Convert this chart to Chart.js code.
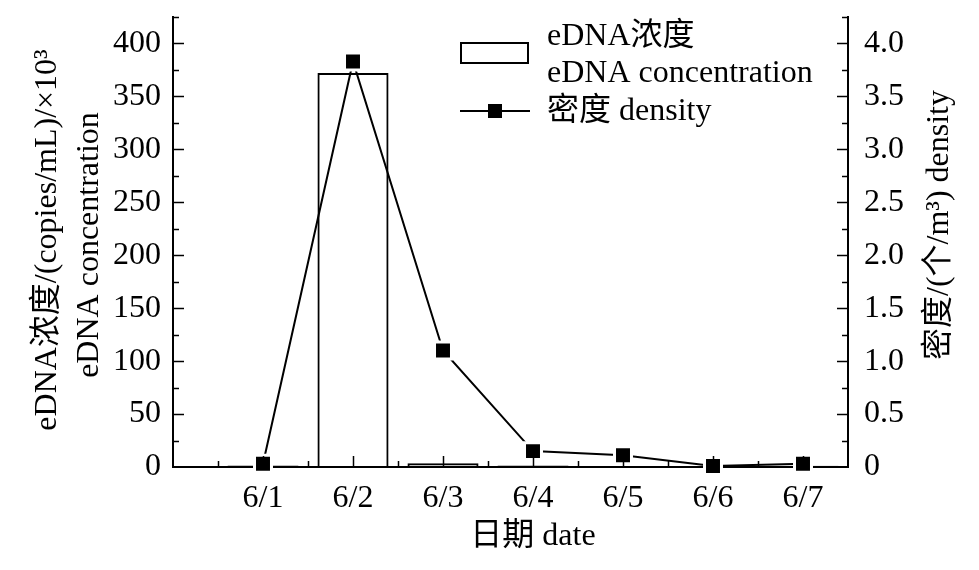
<!DOCTYPE html>
<html>
<head>
<meta charset="utf-8">
<script src="https://cdn.jsdelivr.net/npm/chart.js@4.4.1/dist/chart.umd.min.js"></script>
<style>
html,body{margin:0;padding:0;background:#fff;}
#wrap{width:979px;height:570px;position:relative;}
</style>
</head>
<body>
<div id="wrap"><canvas id="c" width="979" height="570"></canvas></div>
<script>
// ---- data ----
const categories = ['6/1', '6/2', '6/3', '6/4', '6/5', '6/6', '6/7'];
const ednaValues = [1.5, 372, 3.5, 1.5, 0.3, 1.0, 1.2];          // ×10^3 copies/mL
const densityValues = [0.03, 3.83, 1.10, 0.15, 0.11, 0.01, 0.03]; // 个/m³
const leftTicks = [0, 50, 100, 150, 200, 250, 300, 350, 400];
const rightTicks = [0, 0.5, 1.0, 1.5, 2.0, 2.5, 3.0, 3.5, 4.0];
const rightTickLabels = ['0', '0.5', '1.0', '1.5', '2.0', '2.5', '3.0', '3.5', '4.0'];
const legendEdna = ['eDNA浓度', 'eDNA concentration'];
const legendDensity = '密度 density';
const leftTitle = ['eDNA浓度/(copies/mL)/×10³', 'eDNA concentration'];
const rightTitle = '密度/(个/m³) density';
const xTitle = '日期 date';

const FONT = "'Liberation Serif','Noto Sans CJK SC',serif";
const FS = 32;

const barData = categories.map((c, i) => ({ x: i + 1, y: ednaValues[i] }));
const lineData = categories.map((c, i) => ({ x: i + 1, y: densityValues[i] }));

const decor = {
  id: 'decor',
  afterDraw(chart) {
    const ctx = chart.ctx;
    const xs = chart.scales.x, ys = chart.scales.y, ys1 = chart.scales.y1;
    const a = chart.chartArea;
    ctx.save();
    ctx.strokeStyle = '#000';
    ctx.lineWidth = 1.5;
    // inward tick marks
    for (let i = 1; i <= 17; i++) {
      const v = i * 25;
      const py = Math.round(ys.getPixelForValue(v)) + 0.5;
      const len = (i % 2 === 0) ? 11 : 6;
      ctx.beginPath(); ctx.moveTo(a.left, py); ctx.lineTo(a.left + len, py); ctx.stroke();
    }
    for (let i = 1; i <= 17; i++) {
      const v = i * 0.25;
      const py = Math.round(ys1.getPixelForValue(v)) + 0.5;
      const len = (i % 2 === 0) ? 11 : 6;
      ctx.beginPath(); ctx.moveTo(a.right, py); ctx.lineTo(a.right - len, py); ctx.stroke();
    }
    for (let i = 1; i <= 14; i++) {
      const v = i * 0.5;
      const px = Math.round(xs.getPixelForValue(v)) + 0.5;
      const len = (i % 2 === 0) ? 11 : 6;
      ctx.beginPath(); ctx.moveTo(px, a.bottom); ctx.lineTo(px, a.bottom - len); ctx.stroke();
    }

    ctx.fillStyle = '#000';
    ctx.font = FS + 'px ' + FONT;
    ctx.textBaseline = 'alphabetic';
    // left title (two lines, rotated)
    const cy = (a.top + a.bottom) / 2;
    ctx.save();
    ctx.translate(56, cy - 2);
    ctx.rotate(-Math.PI / 2);
    ctx.textAlign = 'center';
    ctx.fillText(leftTitle[0], 0, 0);
    ctx.restore();
    ctx.save();
    ctx.translate(98, cy + 3);
    ctx.rotate(-Math.PI / 2);
    ctx.textAlign = 'center';
    ctx.fillText(leftTitle[1], 0, 0);
    ctx.restore();
    // right title
    ctx.save();
    ctx.translate(948, 225);
    ctx.rotate(-Math.PI / 2);
    ctx.textAlign = 'center';
    ctx.fillText(rightTitle, 0, 0);
    ctx.restore();
    // x title centred on the category span
    ctx.textAlign = 'center';
    ctx.fillText(xTitle, xs.getPixelForValue((1 + categories.length) / 2), 545);

    // legend
    ctx.textAlign = 'left';
    ctx.lineWidth = 2;
    ctx.strokeRect(461, 43, 67, 20);
    ctx.fillText(legendEdna[0], 547, 45);
    ctx.fillText(legendEdna[1], 547, 82);
    ctx.beginPath(); ctx.moveTo(460, 111); ctx.lineTo(530, 111); ctx.stroke();
    ctx.fillRect(488, 104, 14, 14);
    ctx.fillText(legendDensity, 547, 120);
    ctx.restore();
  }
};

const tickFont = { family: FONT, size: FS };
const noPad = (s) => { s.paddingTop = 0; s.paddingBottom = 0; s.paddingLeft = 0; s.paddingRight = 0; };

new Chart(document.getElementById('c'), {
  data: {
    datasets: [
      {
        type: 'bar',
        label: legendEdna.join(' '),
        data: barData,
        yAxisID: 'y',
        backgroundColor: 'rgba(255,255,255,0)',
        borderColor: '#000',
        borderWidth: 2,
        categoryPercentage: 1,
        barPercentage: 0.79,
        order: 2
      },
      {
        type: 'line',
        label: legendDensity,
        data: lineData,
        yAxisID: 'y1',
        borderColor: '#000',
        borderWidth: 2,
        pointStyle: 'rect',
        pointRadius: 12,
        pointBackgroundColor: '#000',
        pointBorderColor: '#fff',
        pointBorderWidth: 3,
        tension: 0,
        clip: false,
        order: 1
      }
    ]
  },
  options: {
    responsive: false,
    animation: false,
    devicePixelRatio: 1,
    layout: { padding: { top: 17, left: 0, right: 0, bottom: 0 } },
    plugins: { legend: { display: false }, tooltip: { enabled: false } },
    scales: {
      x: {
        type: 'linear',
        position: 'bottom',
        offset: false,
        min: 0,
        max: 7.5,
        grid: { display: false, drawTicks: false, offset: false },
        border: { display: true, color: '#000', width: 2 },
        afterBuildTicks: (s) => { s.ticks = categories.map((c, i) => ({ value: i + 1 })); },
        ticks: {
          autoSkip: false, maxRotation: 0, color: '#000', font: tickFont, padding: 12,
          callback: (v) => categories[Math.round(v) - 1] || ''
        },
        afterFit: (s) => { s.height = 103; noPad(s); }
      },
      y: {
        type: 'linear',
        position: 'left',
        min: 0,
        max: 425,
        grid: { display: false, drawTicks: false },
        border: { display: true, color: '#000', width: 2 },
        afterBuildTicks: (s) => { s.ticks = leftTicks.map(v => ({ value: v })); },
        ticks: { color: '#000', font: tickFont, padding: 12, callback: (v) => String(v) },
        afterFit: (s) => { s.width = 173; noPad(s); }
      },
      y1: {
        type: 'linear',
        position: 'right',
        min: 0,
        max: 4.25,
        grid: { display: false, drawTicks: false },
        border: { display: true, color: '#000', width: 2 },
        afterBuildTicks: (s) => { s.ticks = rightTicks.map(v => ({ value: v })); },
        ticks: {
          color: '#000', font: tickFont, padding: 16,
          callback: (v) => rightTickLabels[rightTicks.indexOf(v)]
        },
        afterFit: (s) => { s.width = 131; noPad(s); }
      }
    }
  },
  plugins: [decor]
});
</script>
</body>
</html>
